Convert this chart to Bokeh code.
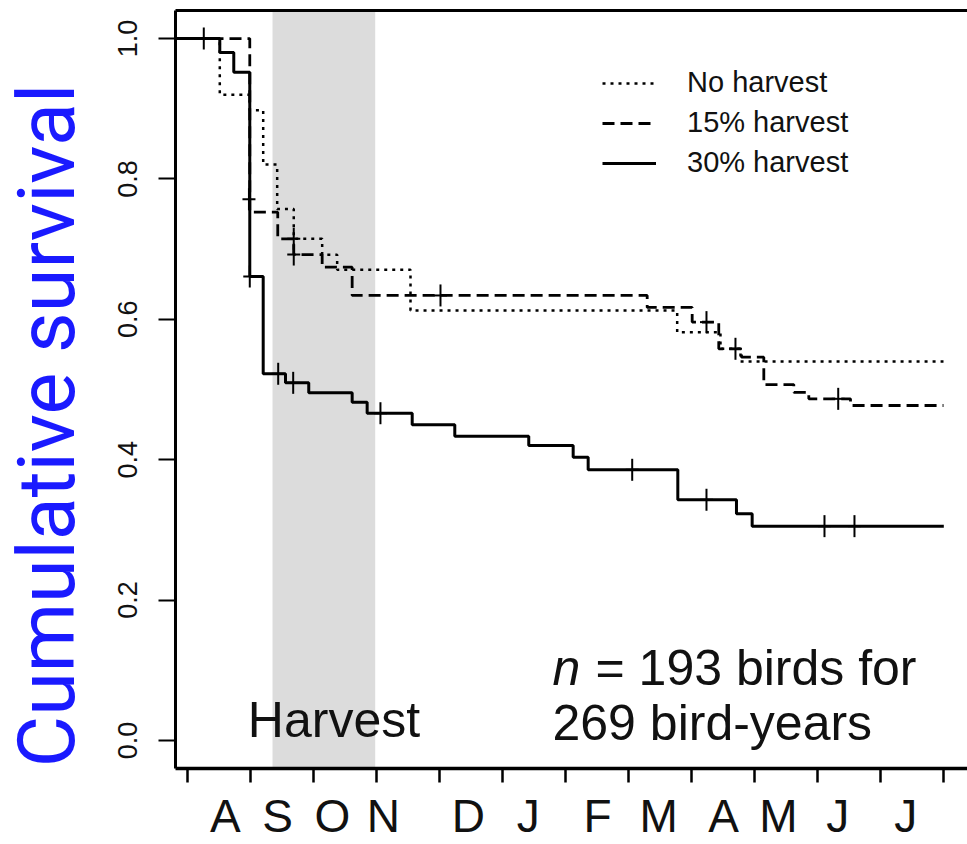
from bokeh.plotting import figure
from bokeh.layouts import row
from bokeh.models import (Range1d, FixedTicker, LinearAxis, BoxAnnotation, Label,
                          Legend, LegendItem, PrintfTickFormatter)
from bokeh.embed import file_html
from bokeh.resources import INLINE
import math

# x unit: months, 0 = start of August (tick marks at month boundaries)
month_ticks = list(range(13))
month_labels = ["A", "S", "O", "N", "D", "J", "F", "M", "A", "M", "J", "J"]
month_label_pos = [0.60, 1.43, 2.30, 3.11, 4.46, 5.41, 6.51, 7.48, 8.51, 9.38, 10.32, 11.40]
y_ticks = [0.0, 0.2, 0.4, 0.6, 0.8, 1.0]

harvest_start = 1.35
harvest_end = 2.98

# Kaplan-Meier steps: time (months) and survival
t_none = [-0.19, 0.513, 0.989, 1.202, 1.424, 1.687, 2.138, 2.376, 3.540, 7.773, 8.460, 8.778, 12.0]
s_none = [1.0, 0.920, 0.898, 0.8205, 0.757, 0.7147, 0.692, 0.6705, 0.6125, 0.5816, 0.558, 0.5399, 0.5399]
ct_none = [1.687]
cs_none = [0.7147]

t_15 = [-0.19, 0.989, 1.433, 1.687, 2.138, 2.614, 7.297, 8.011, 8.433, 8.794, 9.148, 9.624, 9.862, 10.524, 12.0]
s_15 = [1.0, 0.7526, 0.7147, 0.6923, 0.6743, 0.634, 0.617, 0.596, 0.558, 0.546, 0.507, 0.496, 0.4867, 0.4772, 0.4772]
ct_15 = [1.687, 4.016, 8.238, 8.698, 10.329]
cs_15 = [0.6923, 0.634, 0.596, 0.558, 0.4867]

t_30 = [-0.19, 0.513, 0.735, 0.989, 1.202, 1.556, 1.925, 2.614, 2.852, 3.567, 4.243, 5.417, 6.122, 6.360,
        7.783, 8.714, 8.963, 12.005]
s_30 = [1.0, 0.98, 0.952, 0.661, 0.5224, 0.5095, 0.4953, 0.4819, 0.4662, 0.4497, 0.4335, 0.4202, 0.4036,
        0.3856, 0.3429, 0.3229, 0.3053, 0.3053]
ct_30 = [0.259, 0.976, 0.989, 1.440, 1.678, 3.063, 7.059, 8.238, 10.111, 10.587]
cs_30 = [1.0, 0.771, 0.661, 0.5224, 0.5095, 0.4662, 0.3856, 0.3429, 0.3053, 0.3053]

series_names = ["No harvest", "15% harvest", "30% harvest"]
y_title = "Cumulative survival"

FONT = "Liberation Sans"
TITLE_W = 100

# ---- narrow panel holding the y-axis title (frame aligned with the main plot's frame) ----
pt = figure(width=TITLE_W, height=844, x_range=Range1d(0, TITLE_W), y_range=Range1d(-0.04, 1.04),
            output_backend="svg", toolbar_location=None, x_axis_type=None, y_axis_type=None,
            min_border=0)
pt.outline_line_color = None
pt.xgrid.visible = False
pt.ygrid.visible = False
pt.background_fill_color = "white"
pt.border_fill_color = "white"
pt.add_layout(Label(x=46.5, y=0.4487, angle=math.pi / 2, text=y_title, text_align="center",
                    text_baseline="alphabetic", text_font="Roboto", text_font_size="79px",
                    text_color="#1a1aff"))

# ---- main plot ----
p = figure(width=967 - TITLE_W, height=844,
           x_range=Range1d(-0.19, 12.381), y_range=Range1d(-0.04, 1.04),
           output_backend="svg", toolbar_location=None,
           x_axis_type=None, y_axis_type=None,
           min_border_left=175 - TITLE_W, min_border_right=0, min_border_top=10, min_border_bottom=76)
p.outline_line_color = None
p.background_fill_color = "white"
p.border_fill_color = "white"
p.xgrid.visible = False
p.ygrid.visible = False

# harvest band
p.add_layout(BoxAnnotation(left=harvest_start, right=harvest_end, fill_color="#dcdcdc",
                           fill_alpha=1.0, line_color=None, level="underlay"))

# y axis
yaxis = LinearAxis(ticker=FixedTicker(ticks=y_ticks, minor_ticks=[]),
                   formatter=PrintfTickFormatter(format="%.1f"))
yaxis.axis_line_width = 3
yaxis.major_tick_out = 17
yaxis.major_tick_in = 0
yaxis.major_tick_line_width = 2
yaxis.minor_tick_line_color = None
yaxis.major_label_orientation = "vertical"
yaxis.major_label_text_font = FONT
yaxis.major_label_text_font_size = "27px"
yaxis.major_label_text_color = "#111111"
yaxis.major_label_standoff = 21
p.add_layout(yaxis, "left")

# x axis: tick marks at month boundaries (minor), labels at their own positions
xaxis = LinearAxis(ticker=FixedTicker(ticks=month_label_pos, minor_ticks=month_ticks),
                   major_label_overrides={pos: lab for pos, lab in zip(month_label_pos, month_labels)})
xaxis.axis_line_width = 3.5
xaxis.major_tick_line_color = None
xaxis.major_tick_out = 14
xaxis.major_tick_in = 0
xaxis.minor_tick_out = 14
xaxis.minor_tick_in = 0
xaxis.minor_tick_line_width = 2.5
xaxis.minor_tick_line_color = "black"
xaxis.major_label_text_font = FONT
xaxis.major_label_text_font_size = "46px"
xaxis.major_label_text_color = "#111111"
xaxis.major_label_standoff = 7
p.add_layout(xaxis, "below")

# top border
top = LinearAxis(ticker=FixedTicker(ticks=[], minor_ticks=[]))
top.axis_line_width = 3
top.major_tick_out = 0
top.major_tick_in = 0
top.minor_tick_out = 0
top.minor_tick_in = 0
top.major_label_text_font_size = "0px"
top.major_label_standoff = 0
p.add_layout(top, "above")

# curves
r_none = p.step(t_none, s_none, mode="after", line_color="black", line_width=2.5, line_dash="3 5")
r_15 = p.step(t_15, s_15, mode="after", line_color="black", line_width=2.8, line_dash="12 6")
r_30 = p.step(t_30, s_30, mode="after", line_color="black", line_width=3)

# censor marks (+, taller than wide)
for ct, cs in ((ct_none, cs_none), (ct_15, cs_15), (ct_30, cs_30)):
    p.scatter(ct, cs, marker="dash", size=13, line_color="black", line_width=2)
    p.scatter(ct, cs, marker="dash", size=22, angle=math.pi / 2, line_color="black", line_width=2)

legend = Legend(items=[LegendItem(label=series_names[0], renderers=[r_none]),
                       LegendItem(label=series_names[1], renderers=[r_15]),
                       LegendItem(label=series_names[2], renderers=[r_30])],
                location=(427, 589), orientation="vertical")
legend.label_text_font = FONT
legend.label_text_font_size = "29px"
legend.label_text_color = "#111111"
legend.glyph_width = 54
legend.glyph_height = 30
legend.label_standoff = 31
legend.spacing = 7
legend.padding = 0
legend.margin = 0
legend.border_line_color = None
legend.background_fill_alpha = 0
p.add_layout(legend, "center")

# texts
p.add_layout(Label(x=2.325, y=0.0289, text="Harvest", text_align="center", text_baseline="alphabetic",
                   text_font=FONT, text_font_size="50px", text_color="#111111"))
p.add_layout(Label(x=5.794, y=0.103, text="n", text_baseline="alphabetic", text_font=FONT,
                   text_font_style="italic", text_font_size="50px", text_color="#111111"))
p.add_layout(Label(x=5.794, y=0.103, x_offset=43, text="= 193 birds for", text_baseline="alphabetic",
                   text_font=FONT, text_font_size="50px", text_color="#111111"))
p.add_layout(Label(x=5.794, y=0.0246, text="269 bird-years", text_baseline="alphabetic",
                   text_font=FONT, text_font_size="50px", text_color="#111111"))

layout = row(pt, p, spacing=0)
open("out.html", "w").write(file_html(layout, INLINE))
